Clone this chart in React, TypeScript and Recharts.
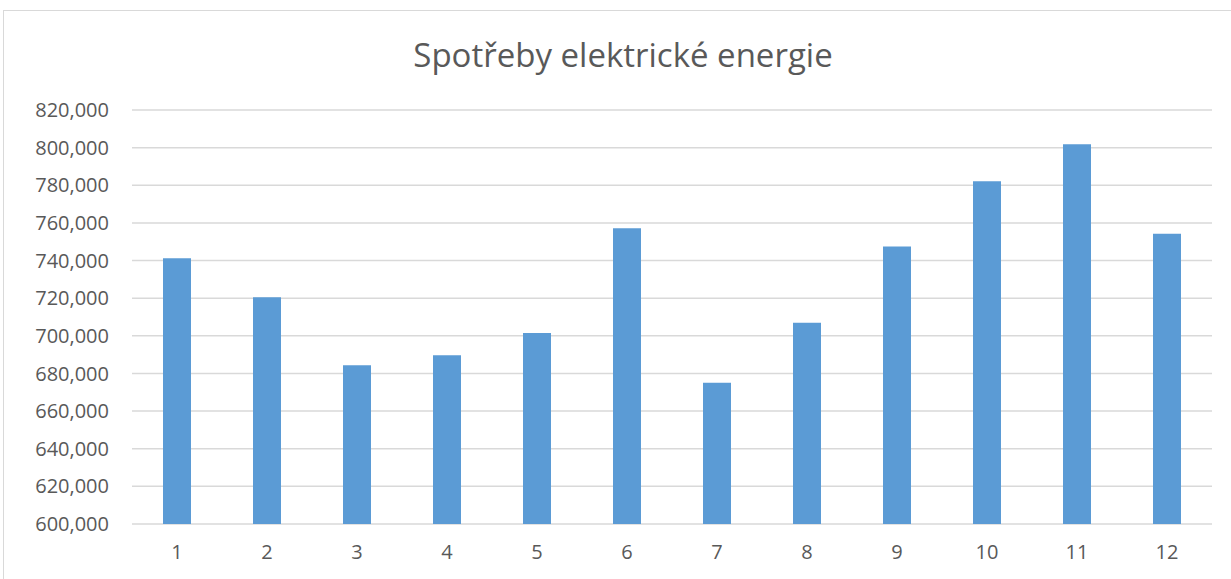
import React from "react";
import { BarChart, Bar, XAxis, YAxis, CartesianGrid } from "recharts";

// měsíce 1–12
const months = ["1", "2", "3", "4", "5", "6", "7", "8", "9", "10", "11", "12"];
const consumption = [
  741200, 720500, 684400, 689700, 701500, 757100, 675000, 707000, 747500,
  782200, 801800, 754200,
];
const yTicks = [
  600000, 620000, 640000, 660000, 680000, 700000, 720000, 740000, 760000,
  780000, 800000, 820000,
];

const data = months.map((m, i) => ({ month: m, value: consumption[i] }));

const fmt = (v: number) => v.toLocaleString("en-US");

const textColor = "#595959";
const font = "'Open Sans', 'Liberation Sans', sans-serif";

export default function App() {
  return (
    <div
      style={{
        position: "absolute",
        left: 0,
        top: 0,
        width: 1231,
        height: 579,
        overflow: "hidden",
        background: "#fff",
        fontFamily: font,
      }}
    >
      {/* chart frame */}
      <div
        style={{
          position: "absolute",
          left: 3,
          top: 10,
          width: 1260,
          height: 620,
          border: "1px solid #d9d9d9",
        }}
      />
      <div
        style={{
          position: "absolute",
          left: 0,
          top: 32,
          width: 1246,
          textAlign: "center",
          fontSize: 33,
          color: textColor,
          lineHeight: "46px",
        }}
      >
        Spotřeby elektrické energie
      </div>
      <div style={{ position: "absolute", left: 0, top: 0 }}>
        <BarChart
          width={1231}
          height={579}
          data={data}
          margin={{ top: 110, right: 19, bottom: 0, left: 0 }}
        >
          <CartesianGrid
            vertical={false}
            stroke="#d9d9d9"
            strokeWidth={1.5}
          />
          <XAxis
            dataKey="month"
            axisLine={false}
            tickLine={false}
            tickSize={0}
            tickMargin={21}
            height={55}
            interval={0}
            tick={{ fill: textColor, fontSize: 20, fontFamily: font }}
          />
          <YAxis
            domain={[600000, 820000]}
            ticks={yTicks}
            interval={0}
            tickFormatter={fmt}
            axisLine={false}
            tickLine={false}
            tickSize={0}
            tickMargin={23}
            width={132}
            allowDataOverflow
            tick={{ fill: textColor, fontSize: 20, fontFamily: font }}
          />
          <Bar
            dataKey="value"
            fill="#5b9bd5"
            barSize={28}
            isAnimationActive={false}
          />
        </BarChart>
      </div>
    </div>
  );
}
